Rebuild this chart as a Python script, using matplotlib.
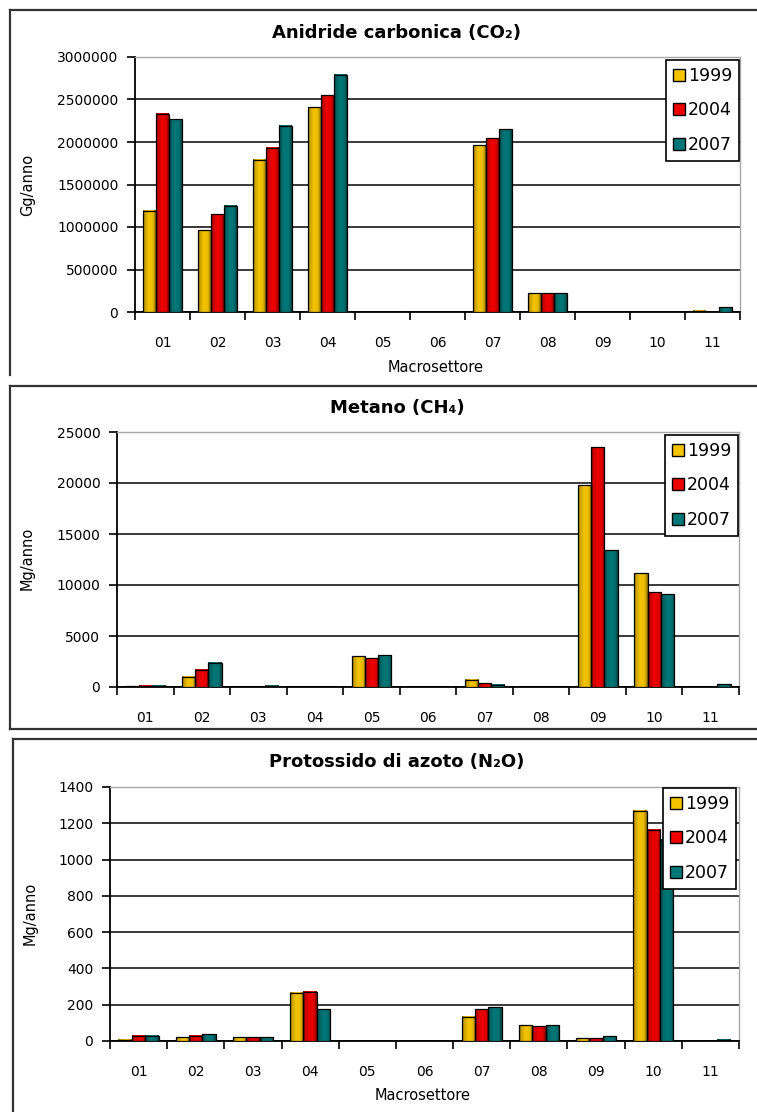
import numpy as np
import matplotlib
matplotlib.use('Agg')
from matplotlib import pyplot as plt
from matplotlib.lines import Line2D

plt.rcParams['font.family'] = ['DejaVu Sans']

sectors = ['01', '02', '03', '04', '05', '06', '07', '08', '09', '10', '11']
years = ['1999', '2004', '2007']
year_colors = ['#f5c400', '#ee0000', '#007777']

co2_1999 = [1190000, 960000, 1790000, 2410000, 0, 0, 1960000, 220000, 0, 0, 12000]
co2_2004 = [2330000, 1150000, 1930000, 2550000, 0, 0, 2045000, 220000, 0, 0, 0]
co2_2007 = [2270000, 1250000, 2190000, 2790000, 0, 0, 2150000, 220000, 0, 0, 55000]

ch4_1999 = [60, 1000, 0, 0, 3000, 0, 700, 0, 19800, 11150, 0]
ch4_2004 = [100, 1700, 0, 0, 2800, 0, 380, 0, 23500, 9300, 0]
ch4_2007 = [100, 2400, 110, 0, 3100, 0, 240, 0, 13400, 9100, 270]

n2o_1999 = [8, 22, 22, 265, 0, 0, 135, 88, 15, 1270, 0]
n2o_2004 = [30, 30, 22, 272, 0, 0, 175, 80, 15, 1165, 0]
n2o_2007 = [30, 38, 22, 175, 0, 0, 185, 88, 25, 1110, 8]

W, H = 757, 1112
fig = plt.figure(figsize=(W / 100, H / 100), dpi=100, facecolor='white')


def box(left, top, right, bottom):
    # pixel box -> figure fraction rect
    return [left / W, 1 - bottom / H, (right - left) / W, (bottom - top) / H]


def fline(x0, y0, x1, y1):
    fig.add_artist(Line2D([x0 / W, x1 / W], [1 - y0 / H, 1 - y1 / H],
                          color='#333333', lw=1.6, transform=fig.transFigure))


def shaded(color):
    # cylinder-like shading across the bar width
    rgb = np.array(matplotlib.colors.to_rgb(color))
    t = np.linspace(0, 1, 40)
    f = np.interp(t, [0, 0.12, 0.45, 0.78, 1], [0.45, 0.8, 1.0, 0.95, 0.55])
    img = np.clip(rgb[None, :] * f[:, None], 0, 1)
    return img[None, :, :]


def draw_panel(rect, series, ymax, ystep, title, title_y, ylabel, ylabel_pos,
               xlabel_pos, legend_box):
    ax = fig.add_axes(rect)
    x = np.arange(len(sectors))
    w = 0.235
    for i, vals in enumerate(series):
        bars = ax.bar(x + (i - 1) * w, vals, w, facecolor='none',
                      edgecolor='black', lw=0.9, zorder=4)
        for b in bars:
            if b.get_height() <= 0:
                continue
            ax.imshow(shaded(year_colors[i]), aspect='auto', zorder=3,
                      extent=[b.get_x(), b.get_x() + b.get_width(), 0, b.get_height()],
                      interpolation='bilinear')
    ax.set_xlim(-0.5, len(sectors) - 0.5)
    ax.set_ylim(0, ymax)
    ax.set_yticks(np.arange(0, ymax + 1, ystep))
    ax.ticklabel_format(axis='y', style='plain', useOffset=False)
    ax.yaxis.grid(True, color='#2a2a2a', lw=1.3)
    ax.set_axisbelow(True)
    ax.set_xticks(x)
    ax.set_xticklabels(sectors)
    ax.set_xticks(np.arange(-0.5, len(sectors)), minor=True)
    ax.tick_params(axis='x', which='major', length=0, pad=17.5, labelsize=10)
    ax.tick_params(axis='x', which='minor', length=6, width=1.2, direction='out')
    ax.tick_params(axis='y', length=6, width=1.2, pad=6, labelsize=10)
    for s in ['top', 'right']:
        ax.spines[s].set_color('#a8a8a8')
        ax.spines[s].set_linewidth(1.0)
    for s in ['left', 'bottom']:
        ax.spines[s].set_color('black')
        ax.spines[s].set_linewidth(1.3)

    handles = [Line2D([], [], marker='s', ls='none', markersize=8,
                      markerfacecolor=c, markeredgecolor='black')
               for c in year_colors]
    lx0, ly0, lx1, ly1 = legend_box
    leg = ax.legend(handles, years, loc='upper right', fontsize=12.5,
                    bbox_to_anchor=(lx1 / W, 1 - ly0 / H), bbox_transform=fig.transFigure,
                    handlelength=0.7, handletextpad=0.15, labelspacing=0.95,
                    borderpad=0.4, borderaxespad=0, fancybox=False, framealpha=1)
    leg.get_frame().set_edgecolor('black')
    leg.get_frame().set_linewidth(1.2)
    leg.set_zorder(6)

    fig.text(397 / W, 1 - title_y / H, title, ha='center', va='center',
             fontsize=13, fontweight='bold')
    fig.text(ylabel_pos[0] / W, 1 - ylabel_pos[1] / H, ylabel, rotation=90,
             ha='center', va='center', fontsize=10.5)
    if xlabel_pos is not None:
        fig.text(xlabel_pos[0] / W, 1 - xlabel_pos[1] / H, 'Macrosettore',
                 ha='center', va='center', fontsize=10.5)
    return ax


# anidride carbonica
fline(10, 10, 757, 10)
fline(10, 10, 10, 375)
draw_panel(box(135, 57, 740, 312), [co2_1999, co2_2004, co2_2007], 3000000, 500000,
           'Anidride carbonica (CO\u2082)', 33, 'Gg/anno', (28, 185), (436, 368),
           (670, 60, 739, 157))

# metano
fline(10, 386, 757, 386)
fline(10, 386, 10, 729)
fline(10, 729, 757, 729)
draw_panel(box(117, 432, 739, 687), [ch4_1999, ch4_2004, ch4_2007], 25000, 5000,
           'Metano (CH\u2084)', 408, 'Mg/anno', (27, 558), None,
           (668, 435, 738, 532))

# protossido di azoto
fline(13, 739, 757, 739)
fline(13, 739, 13, 1112)
draw_panel(box(110, 787, 739, 1041), [n2o_1999, n2o_2004, n2o_2007], 1400, 200,
           'Protossido di azoto (N\u2082O)', 762, 'Mg/anno', (30, 913), (423, 1095),
           (668, 788, 736, 885))

fig.savefig('out.png', dpi=100)
